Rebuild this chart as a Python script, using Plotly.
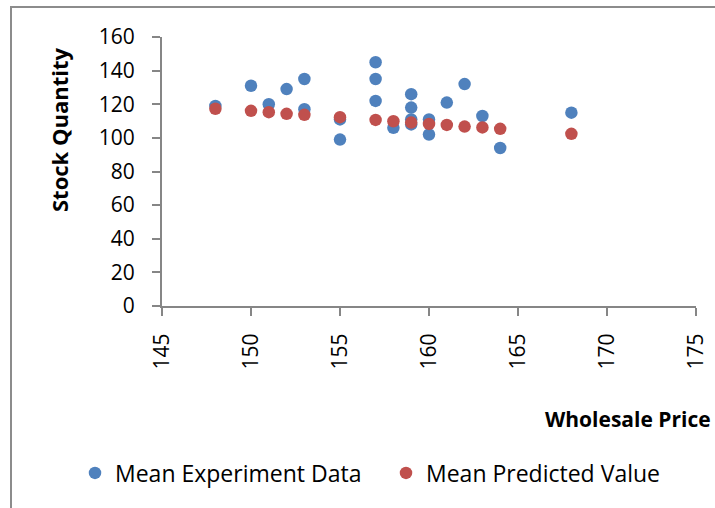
import plotly.graph_objects as go

# ---- data ----
exp_price = [148, 150, 151, 152, 153, 153, 155, 155, 157, 157, 157, 158,
             159, 159, 159, 159, 160, 160, 161, 162, 163, 164, 168]
exp_qty = [119, 131, 120, 129, 135, 117, 111, 99, 145, 135, 122, 106,
           126, 118, 111, 108, 111, 102, 121, 132, 113, 94, 115]

pred_price = [148, 150, 151, 152, 153, 155, 157, 158, 159, 160, 161, 162, 163, 164, 168]
pred_qty = [117.3, 116.1, 115.3, 114.3, 113.7, 112.3, 110.7, 109.9, 109.1, 108.3,
            107.7, 106.7, 106.2, 105.4, 102.4]

x_ticks = [145, 150, 155, 160, 165, 170, 175]
y_ticks = [0, 20, 40, 60, 80, 100, 120, 140, 160]

# ---- layout geometry (pixels) ----
W, H = 715, 508
L, R, T, B = 162, 19, 37, 202
PW, PH = W - L - R, H - T - B


def px_x(p):
    return (p - L) / PW


def px_y(p):
    return (H - B - p) / PH


FONT = "'Open Sans', Carlito, Calibri, sans-serif"
BLUE = "#4F81BD"
RED = "#C0504D"
AXIS = "#868686"

fig = go.Figure()
fig.add_trace(go.Scatter(x=exp_price, y=exp_qty, mode="markers",
                         name="Mean Experiment Data",
                         marker=dict(color=BLUE, size=12.5, line=dict(width=0))))
fig.add_trace(go.Scatter(x=pred_price, y=pred_qty, mode="markers",
                         name="Mean Predicted Value",
                         marker=dict(color=RED, size=12.5, line=dict(width=0))))

fig.update_layout(
    width=W, height=H,
    margin=dict(l=L, r=R, t=T, b=B, autoexpand=False),
    paper_bgcolor="white", plot_bgcolor="white",
    font=dict(family=FONT, size=21, color="black"),
    showlegend=True,
    legend=dict(orientation="h", xref="paper", yref="paper",
                x=px_x(75), y=px_y(473), xanchor="left", yanchor="middle",
                font=dict(size=23, color="black"), entrywidth=266,
                entrywidthmode="pixels", bgcolor="rgba(0,0,0,0)"),
    xaxis=dict(range=[145, 175], tickvals=x_ticks, ticktext=[str(v) for v in x_ticks],
               tickangle=-90, showgrid=False, zeroline=False, showline=True,
               linecolor=AXIS, linewidth=2, ticks="outside", ticklen=8,
               tickcolor=AXIS, tickwidth=2, tickfont=dict(size=21), automargin=False,
               ticklabelstandoff=9),
    yaxis=dict(range=[0, 160], tickvals=y_ticks, ticktext=[str(v) for v in y_ticks],
               showgrid=False, zeroline=False, showline=True,
               linecolor=AXIS, linewidth=2, ticks="outside", ticklen=8,
               tickcolor=AXIS, tickwidth=2, tickfont=dict(size=21), automargin=False,
               ticklabelstandoff=13),
    annotations=[
        dict(text="<b>Stock Quantity</b>", xref="paper", yref="paper",
             x=px_x(59), y=px_y(130), textangle=-90, showarrow=False,
             xanchor="center", yanchor="middle", font=dict(size=22, color="black")),
        dict(text="<b>Wholesale Price</b>", xref="paper", yref="paper",
             x=px_x(628), y=px_y(419), showarrow=False,
             xanchor="center", yanchor="middle", font=dict(size=21, color="black")),
    ],
    shapes=[
        dict(type="rect", xref="paper", yref="paper",
             x0=px_x(11), x1=px_x(W + 20), y0=px_y(H + 20), y1=px_y(7),
             line=dict(color="#8C8C8C", width=2), fillcolor="rgba(0,0,0,0)", layer="below"),
    ],
)

fig.write_html("out.html", config={"displayModeBar": False},
               post_script="document.body.style.margin='0';")
